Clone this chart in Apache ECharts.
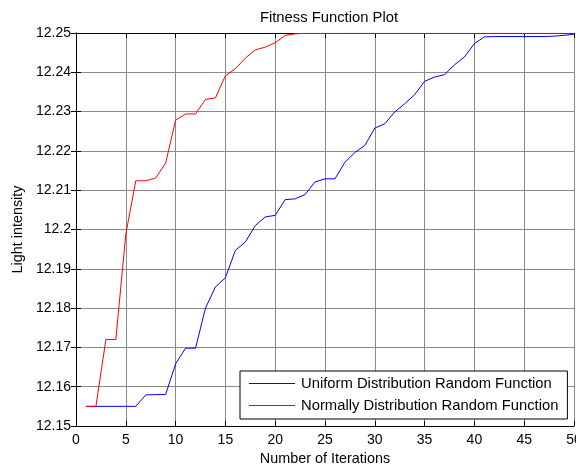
<!DOCTYPE html>
<html>
<head>
<meta charset="utf-8">
<script src="https://cdn.jsdelivr.net/npm/echarts@6/dist/echarts.min.js"></script>
<style>
  html, body { margin: 0; padding: 0; background: #fff; }
  #chart { width: 576px; height: 469px; }
</style>
</head>
<body>
<div id="chart"></div>
<script>
// iterations 1..50
var iterations = [];
for (var i = 1; i <= 50; i++) iterations.push(i);

// Uniform Distribution Random Function (blue)
var uniformVals = [
  12.155, 12.155, 12.155, 12.155, 12.155, 12.155, 12.1579, 12.158, 12.158, 12.1658,
  12.1698, 12.1698, 12.18, 12.1854, 12.1877, 12.1947, 12.1968, 12.201, 12.2032, 12.2036,
  12.2076, 12.2078, 12.2089, 12.2121, 12.2129, 12.2129, 12.2171, 12.2196, 12.2214, 12.2258,
  12.2269, 12.2299, 12.232, 12.2343, 12.2377, 12.2388, 12.2394, 12.2419, 12.2439, 12.2473,
  12.249, 12.2491, 12.2491, 12.2491, 12.2491, 12.2491, 12.2491, 12.2492, 12.2494, 12.2497
];

// Normally Distribution Random Function (red)
var normalVals = [
  12.155, 12.155, 12.172, 12.172, 12.1988, 12.2124, 12.2124, 12.2131, 12.2169, 12.2278,
  12.2294, 12.2294, 12.2331, 12.2335, 12.2391, 12.2409, 12.2436, 12.2457, 12.2464, 12.2475,
  12.2494, 12.2498, 12.2499, 12.2499, 12.2499, 12.2499, 12.2499, 12.2499, 12.2499, 12.2499,
  12.2499, 12.2499, 12.2499, 12.2499, 12.2499, 12.2499, 12.2499, 12.2499, 12.2499, 12.2499,
  12.2499, 12.2499, 12.2499, 12.2499, 12.2499, 12.2499, 12.2499, 12.2499, 12.2499, 12.2499
];

var seriesNames = ['Uniform Distribution Random Function', 'Normally Distribution Random Function'];
var seriesColors = ['#0000ff', '#ff0000'];

function pairs(vals) {
  return vals.map(function (v, k) { return [iterations[k], v]; });
}

var font = 'Liberation Sans, Arial, sans-serif';
var gridLine = { show: true, lineStyle: { color: '#8a8a8a', width: 1 } };
var tick = { show: true, inside: true, length: 5, lineStyle: { color: '#000' } };
var axisLine = { show: true, lineStyle: { color: '#000', width: 1 } };

var chart = echarts.init(document.getElementById('chart'));
chart.setOption({
  backgroundColor: '#fff',
  animation: false,
  title: {
    text: 'Fitness Function Plot',
    left: 324, textAlign: 'center', top: 5,
    textStyle: { fontFamily: font, fontSize: 14.8, fontWeight: 'normal', color: '#000' }
  },
  grid: { left: 76, right: 2, top: 33, bottom: 43, containLabel: false, outerBoundsMode: 'none' },
  legend: {
    data: seriesNames.map(function (n, k) {
      return {
        name: n,
        itemStyle: { color: seriesColors[k], borderWidth: 0 },
        lineStyle: { color: seriesColors[k], width: 1 }
      };
    }),
    orient: 'vertical',
    left: 240, top: 371,
    padding: [5, 9, 6, 9],
    itemGap: 7,
    itemWidth: 46, itemHeight: 15,
    icon: 'path://M0,7L46,7L46,8.2L0,8.2Z',
    borderColor: '#000', borderWidth: 1,
    backgroundColor: '#fff',
    textStyle: { fontFamily: font, fontSize: 14.8, color: '#000', padding: [0, 0, 0, 1] }
  },
  xAxis: [{
    type: 'value', min: 0, max: 50, interval: 5,
    name: 'Number of Iterations', nameLocation: 'middle', nameGap: 26,
    nameTextStyle: { fontFamily: font, fontSize: 14.4, color: '#000' },
    axisLine: axisLine, axisTick: tick, splitLine: gridLine,
    axisLabel: { fontFamily: font, fontSize: 14, color: '#000', margin: 7 }
  }, {
    type: 'value', min: 0, max: 50, interval: 5, position: 'top',
    axisLine: axisLine, axisTick: tick, splitLine: { show: false },
    axisLabel: { show: false }
  }],
  yAxis: [{
    type: 'value', min: 12.15, max: 12.25, interval: 0.01,
    name: 'Light intensity', nameLocation: 'middle', nameGap: 49,
    nameTextStyle: { fontFamily: font, fontSize: 14.4, color: '#000' },
    axisLine: axisLine, axisTick: tick, splitLine: gridLine,
    axisLabel: {
      fontFamily: font, fontSize: 14, color: '#000', margin: 5,
      formatter: function (v) { return String(parseFloat(v.toFixed(2))); }
    }
  }, {
    type: 'value', min: 12.15, max: 12.25, interval: 0.01, position: 'right',
    axisLine: axisLine, axisTick: tick, splitLine: { show: false },
    axisLabel: { show: false }
  }],
  series: [{
    name: seriesNames[0], type: 'line', data: pairs(uniformVals),
    symbol: 'none', lineStyle: { color: seriesColors[0], width: 1 }, itemStyle: { color: seriesColors[0] }
  }, {
    name: seriesNames[1], type: 'line', data: pairs(normalVals),
    symbol: 'none', lineStyle: { color: seriesColors[1], width: 1 }, itemStyle: { color: seriesColors[1] }
  }]
});
</script>
</body>
</html>
